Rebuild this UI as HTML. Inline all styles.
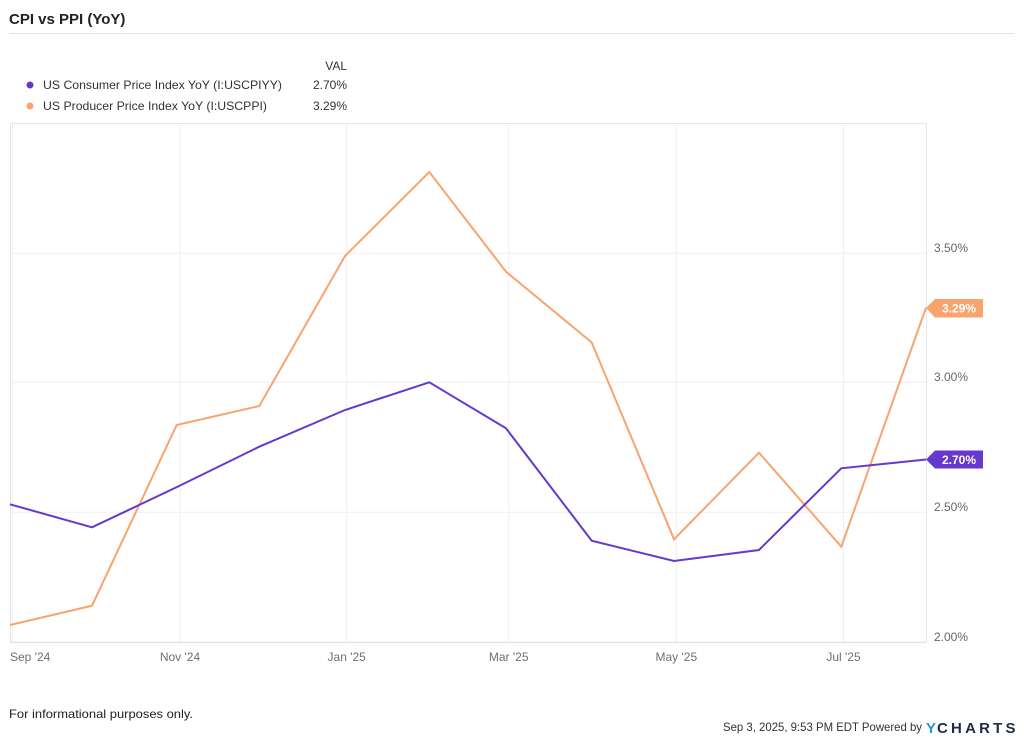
<!DOCTYPE html>
<html>
<head>
<meta charset="utf-8">
<style>
  html,body{margin:0;padding:0;background:#fff;}
  svg{display:block;font-family:"Liberation Sans",Arial,sans-serif;}
</style>
</head>
<body>
<svg width="1024" height="737" viewBox="0 0 1024 737" xmlns="http://www.w3.org/2000/svg">
  <rect width="1024" height="737" fill="#fff"/>
  <!-- Title -->
  <text x="9" y="24" font-size="15" font-weight="bold" fill="#222">CPI vs PPI (YoY)</text>
  <line x1="9" y1="33.5" x2="1014" y2="33.5" stroke="#e2e2e2" stroke-width="1"/>

  <!-- Legend -->
  <text x="347" y="70" font-size="12" fill="#333" text-anchor="end">VAL</text>
  <circle cx="30" cy="85" r="3.5" fill="#6638cc"/>
  <text x="43" y="89" font-size="12" fill="#333" textLength="239" lengthAdjust="spacingAndGlyphs">US Consumer Price Index YoY (I:USCPIYY)</text>
  <text x="347" y="89" font-size="12" fill="#333" text-anchor="end">2.70%</text>
  <circle cx="30" cy="106" r="3.5" fill="#f8a46f"/>
  <text x="43" y="110" font-size="12" fill="#333" textLength="224" lengthAdjust="spacingAndGlyphs">US Producer Price Index YoY (I:USCPPI)</text>
  <text x="347" y="110" font-size="12" fill="#333" text-anchor="end">3.29%</text>

  <!-- Plot frame -->
  <line x1="10" y1="123.5" x2="926.5" y2="123.5" stroke="#e6e6e6" stroke-width="1"/>
  <line x1="10.5" y1="123" x2="10.5" y2="642" stroke="#e6e6e6" stroke-width="1"/>
  <line x1="926.5" y1="123" x2="926.5" y2="642" stroke="#e6e6e6" stroke-width="1"/>

  <!-- vertical gridlines -->
  <g stroke="#efefef" stroke-width="1">
    <line x1="12.5" y1="123" x2="12.5" y2="642"/>
    <line x1="180" y1="123" x2="180" y2="642"/>
    <line x1="346.7" y1="123" x2="346.7" y2="642"/>
    <line x1="508.7" y1="123" x2="508.7" y2="642"/>
    <line x1="676.3" y1="123" x2="676.3" y2="642"/>
    <line x1="843.5" y1="123" x2="843.5" y2="642"/>
  </g>
  <!-- horizontal gridlines -->
  <g stroke="#efefef" stroke-width="1">
    <line x1="10" y1="253.3" x2="926" y2="253.3"/>
    <line x1="10" y1="382.3" x2="926" y2="382.3"/>
    <line x1="10" y1="512.3" x2="926" y2="512.3"/>
  </g>
  <line x1="10" y1="642.3" x2="926.5" y2="642.3" stroke="#dedede" stroke-width="1.2"/>

  <!-- Y labels -->
  <g font-size="12" fill="#666">
    <text x="934" y="252">3.50%</text>
    <text x="934" y="381">3.00%</text>
    <text x="934" y="511">2.50%</text>
    <text x="934" y="641">2.00%</text>
  </g>

  <!-- X labels -->
  <g font-size="12" fill="#6f6f6f">
    <text x="10" y="661">Sep '24</text>
    <text x="180" y="661" text-anchor="middle">Nov '24</text>
    <text x="346.7" y="661" text-anchor="middle">Jan '25</text>
    <text x="508.7" y="661" text-anchor="middle">Mar '25</text>
    <text x="676.3" y="661" text-anchor="middle">May '25</text>
    <text x="843.5" y="661" text-anchor="middle">Jul '25</text>
  </g>

  <!-- PPI series -->
  <polyline fill="none" stroke="#f8a46f" stroke-width="2" stroke-linejoin="miter"
    points="10,625 92,605.7 176.7,425 259.3,406 345,256 429.3,172 506,271.7 591.7,342.5 674,539.3 759,452.7 841.3,546.7 926,307.7"/>
  <!-- CPI series -->
  <polyline fill="none" stroke="#6638cc" stroke-width="2" stroke-linejoin="miter"
    points="10,504.3 92,527.3 177,487 259.3,446.7 345,410 429.3,382.3 506,428.3 591.7,540.7 674,561 759,550 841.3,468.3 926,459.5"/>

  <!-- Value tags -->
  <path d="M926,308 L935,299 L983,299 L983,317.5 L935,317.5 Z" fill="#f8a46f"/>
  <text x="959" y="312.5" font-size="12" font-weight="bold" fill="#fff" text-anchor="middle">3.29%</text>
  <path d="M926,459.5 L935,450.5 L983,450.5 L983,468.5 L935,468.5 Z" fill="#6638cc"/>
  <text x="959" y="464" font-size="12" font-weight="bold" fill="#fff" text-anchor="middle">2.70%</text>

  <!-- Footer -->
  <text x="9" y="718" font-size="12" fill="#222" textLength="184" lengthAdjust="spacingAndGlyphs">For informational purposes only.</text>
  <text x="922" y="731" font-size="12" fill="#333" text-anchor="end" textLength="199" lengthAdjust="spacingAndGlyphs">Sep 3, 2025, 9:53 PM EDT Powered by</text>
  <text x="926" y="733" font-size="15" font-weight="bold" fill="#1e9bd7">Y</text>
  <text x="937" y="733" font-size="15" font-weight="bold" fill="#1f2a44" letter-spacing="1.5" textLength="80" lengthAdjust="spacing">CHARTS</text>
</svg>
</body>
</html>
